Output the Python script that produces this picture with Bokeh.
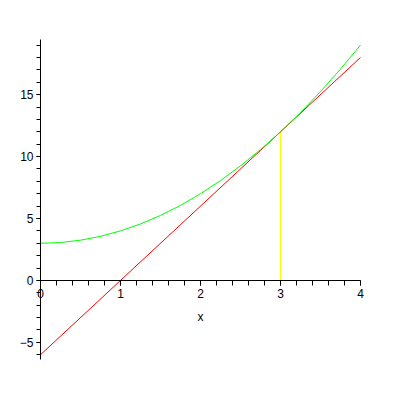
from bokeh.plotting import figure
from bokeh.models import FixedTicker, Range1d
from bokeh.embed import file_html
from bokeh.resources import INLINE

# green curve
curve_x = [0, 0.25, 0.5, 0.75, 1.0, 1.25, 1.5, 1.75, 2.0, 2.25, 2.5, 2.75, 3.0, 3.25, 3.5, 3.75, 4.0]
curve_y = [3.0, 3.06, 3.25, 3.56, 4.0, 4.56, 5.25, 6.06, 7.0, 8.06, 9.25, 10.56, 12.0, 13.56, 15.25, 17.06, 19.0]
# red tangent line
line_x = [0, 4]
line_y = [-6, 18]
# vertical marker at x = 3
vert_x = [3, 3]
vert_y = [0, 12]

x_major = [0, 1, 2, 3, 4]
x_minor = [round(0.2 * i, 1) for i in range(21)]
y_major = [-5, 0, 5, 10, 15]
y_minor = list(range(-6, 20))

X_LO, X_HI = 0, 4
Y_LO, Y_HI = -6.38, 19.45

p = figure(width=384, height=384, output_backend="svg", toolbar_location=None,
           x_range=Range1d(-0.5, 4.3), y_range=Range1d(-8.4, 22.6),
           min_border_left=0, min_border_right=0, min_border_top=0, min_border_bottom=0)
p.outline_line_color = None
p.xgrid.visible = False
p.ygrid.visible = False

p.line(vert_x, vert_y, line_color="#ffff00", line_width=1)
p.line(line_x, line_y, line_color="#ff0000", line_width=1)
p.line(curve_x, curve_y, line_color="#00ff00", line_width=1)

for ax in (p.xaxis[0], p.yaxis[0]):
    ax.fixed_location = 0
    ax.axis_line_color = "black"
    ax.major_tick_in = 0
    ax.minor_tick_in = 0
    ax.major_tick_line_color = "black"
    ax.minor_tick_line_color = "black"
    ax.major_label_text_font = "Liberation Sans"
    ax.major_label_text_font_size = "12px"
    ax.major_label_text_color = "black"

p.xaxis.bounds = (X_LO, X_HI)
p.yaxis.bounds = (Y_LO, Y_HI)
p.xaxis.major_tick_out = 5
p.xaxis.minor_tick_out = 5
p.yaxis.major_tick_out = 4
p.yaxis.minor_tick_out = 4
p.xaxis.major_label_standoff = 4
p.yaxis.major_label_standoff = 3

p.xaxis.ticker = FixedTicker(ticks=x_major, minor_ticks=x_minor)
p.yaxis.ticker = FixedTicker(ticks=y_major, minor_ticks=y_minor)
p.xaxis.axis_label = "x"
p.xaxis.axis_label_text_font = "Liberation Sans"
p.xaxis.axis_label_text_font_style = "normal"
p.xaxis.axis_label_text_font_size = "12px"
p.xaxis.axis_label_text_color = "black"
p.xaxis.axis_label_standoff = 8

open("out.html", "w").write(file_html(p, INLINE))
